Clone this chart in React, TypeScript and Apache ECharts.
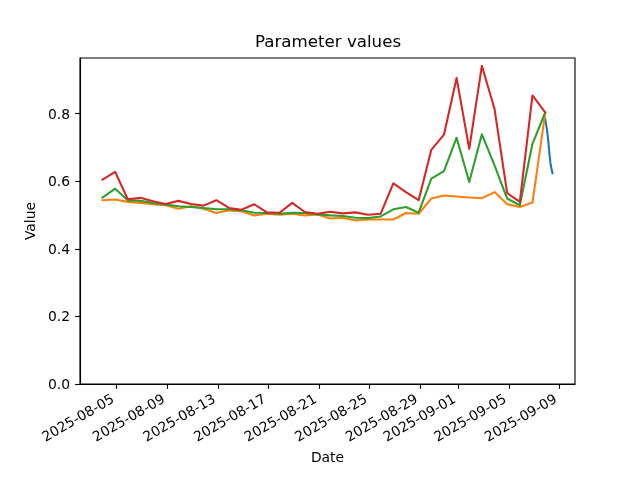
import React, { useEffect, useRef } from 'react';
import * as echarts from 'echarts';

// Daily samples (each taken at 21:00 UTC)
const dailyDates = [
  '2025-08-03', '2025-08-04', '2025-08-05', '2025-08-06', '2025-08-07', '2025-08-08',
  '2025-08-09', '2025-08-10', '2025-08-11', '2025-08-12', '2025-08-13', '2025-08-14',
  '2025-08-15', '2025-08-16', '2025-08-17', '2025-08-18', '2025-08-19', '2025-08-20',
  '2025-08-21', '2025-08-22', '2025-08-23', '2025-08-24', '2025-08-25', '2025-08-26',
  '2025-08-27', '2025-08-28', '2025-08-29', '2025-08-30', '2025-08-31', '2025-09-01',
  '2025-09-02', '2025-09-03', '2025-09-04', '2025-09-05', '2025-09-06', '2025-09-07',
];
const dailyTime = 'T21:00:00Z';

const orangeValues = [
  0.544, 0.546, 0.539, 0.536, 0.532, 0.529, 0.519, 0.526, 0.519, 0.506, 0.514, 0.511,
  0.499, 0.504, 0.501, 0.504, 0.499, 0.502, 0.490, 0.492, 0.484, 0.487, 0.487, 0.487,
  0.506, 0.504, 0.549, 0.558, 0.555, 0.552, 0.550, 0.568, 0.532, 0.524, 0.537, 0.800,
];
const greenValues = [
  0.552, 0.578, 0.544, 0.542, 0.536, 0.531, 0.526, 0.524, 0.521, 0.517, 0.517, 0.514,
  0.507, 0.506, 0.504, 0.507, 0.506, 0.502, 0.499, 0.497, 0.492, 0.491, 0.496, 0.517,
  0.524, 0.507, 0.608, 0.630, 0.729, 0.598, 0.739, 0.647, 0.549, 0.529, 0.711, 0.803,
];
const redValues = [
  0.605, 0.628, 0.547, 0.551, 0.541, 0.533, 0.542, 0.533, 0.528, 0.544, 0.521, 0.516,
  0.532, 0.508, 0.507, 0.536, 0.509, 0.504, 0.510, 0.505, 0.508, 0.501, 0.504, 0.594,
  0.568, 0.544, 0.693, 0.738, 0.906, 0.696, 0.942, 0.814, 0.565, 0.539, 0.854, 0.804,
];

// Recent fine-grained samples
const blueTimes = [
  '2025-09-07T21:00:00Z', '2025-09-07T23:00:00Z', '2025-09-08T01:00:00Z', '2025-09-08T03:00:00Z',
  '2025-09-08T05:00:00Z', '2025-09-08T07:00:00Z', '2025-09-08T09:00:00Z', '2025-09-08T11:00:00Z',
];
const blueValues = [0.785, 0.767, 0.747, 0.718, 0.684, 0.655, 0.637, 0.624];

const xTickDates = [
  '2025-08-05', '2025-08-09', '2025-08-13', '2025-08-17', '2025-08-21',
  '2025-08-25', '2025-08-29', '2025-09-01', '2025-09-05', '2025-09-09',
];
const yTicks = [0, 0.2, 0.4, 0.6, 0.8];

const ts = (s: string) => Date.parse(s);

export default function App() {
  const ref = useRef<HTMLDivElement>(null);
  useEffect(() => {
    if (!ref.current) return;
    const chart = echarts.init(ref.current, null, { renderer: 'svg' });
    const dailyTs = dailyDates.map((d) => ts(d + dailyTime));
    const blueTs = blueTimes.map(ts);
    const allTs = dailyTs.concat(blueTs);
    const tMin = Math.min(...allTs);
    const tMax = Math.max(...allTs);
    const span = tMax - tMin;
    const allVals = redValues.concat(greenValues, orangeValues, blueValues);
    const vMin = Math.min(...allVals);
    const vMax = Math.max(...allVals);
    const yMax = vMax + 0.05 * (vMax - vMin);
    const xTicks = xTickDates.map((d) => ts(d + 'T00:00:00Z'));
    const font = 'DejaVu Sans';
    const lw = 1.5 * 100 / 72;
    const aw = 0.8 * 100 / 72;
    const tickLen = 3.5 * 100 / 72;
    const mk = (name: string, color: string, xs: number[], ys: number[]) => ({
      name,
      type: 'line',
      data: xs.map((x, i) => [x, ys[i]]),
      showSymbol: false,
      symbol: 'none',
      lineStyle: { color, width: lw, cap: 'square', join: 'round' },
      itemStyle: { color },
      silent: true,
    });
    chart.setOption({
      animation: false,
      textStyle: { fontFamily: font },
      title: {
        text: 'Parameter values',
        left: 323,
        textAlign: 'center',
        top: 28,
        textStyle: { fontFamily: font, fontSize: 16.67, fontWeight: 'normal', color: '#000' },
      },
      grid: {
        left: 80, right: 65, top: 58, bottom: 96,
        show: true, borderColor: '#000', borderWidth: aw, backgroundColor: 'transparent',
        containLabel: false,
        outerBoundsMode: 'none',
      },
      xAxis: {
        type: 'value',
        min: tMin - 0.05 * span,
        max: tMax + 0.05 * span,
        scale: true,
        name: 'Date',
        nameLocation: 'middle',
        nameGap: 66,
        nameTextStyle: { fontFamily: font, fontSize: 13.89, color: '#000' },
        axisLine: { show: true, onZero: false, lineStyle: { color: '#000', width: aw } },
        axisTick: { show: true, length: tickLen, lineStyle: { color: '#000', width: aw }, customValues: xTicks },
        axisLabel: {
          customValues: xTicks,
          rotate: 30,
          margin: 11,
          padding: [0, 4.6, 0, 0],
          fontFamily: font,
          fontSize: 13.89,
          color: '#000',
          formatter: (v: number) => new Date(v).toISOString().slice(0, 10),
        },
        splitLine: { show: false },
      },
      yAxis: {
        type: 'value',
        min: 0,
        max: yMax,
        name: 'Value',
        nameLocation: 'middle',
        nameGap: 35,
        nameRotate: 90,
        nameTextStyle: { fontFamily: font, fontSize: 13.89, color: '#000' },
        axisLine: { show: true, lineStyle: { color: '#000', width: aw } },
        axisTick: { show: true, length: tickLen, lineStyle: { color: '#000', width: aw }, customValues: yTicks },
        axisLabel: {
          customValues: yTicks,
          margin: 10,
          fontFamily: font,
          fontSize: 13.89,
          color: '#000',
          formatter: (v: number) => v.toFixed(1),
        },
        splitLine: { show: false },
      },
      series: [
        mk('C0', '#1f77b4', blueTs, blueValues),
        mk('C1', '#ff7f0e', dailyTs, orangeValues),
        mk('C2', '#2ca02c', dailyTs, greenValues),
        mk('C3', '#d62728', dailyTs, redValues),
      ],
    });
    return () => chart.dispose();
  }, []);
  return <div ref={ref} style={{ position: 'fixed', left: 0, top: 0, width: 640, height: 480 }} />;
}
